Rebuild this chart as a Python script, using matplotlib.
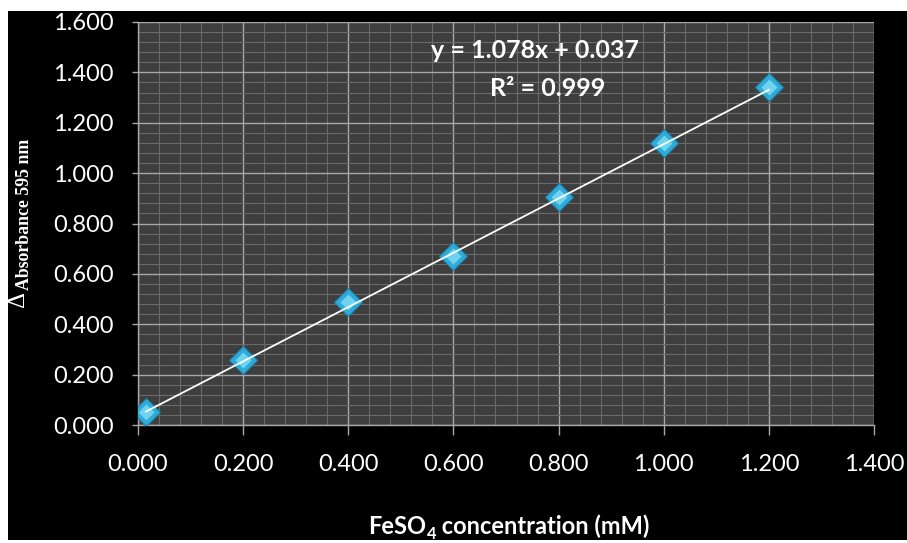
import matplotlib
matplotlib.use("Agg")
import matplotlib.pyplot as plt
import numpy as np
from matplotlib.patches import Rectangle
from matplotlib.ticker import MultipleLocator, FormatStrFormatter

# FeSO4 calibration data
conc_mM = [0.015, 0.200, 0.400, 0.600, 0.800, 1.000, 1.200]
absorbance = [0.052, 0.258, 0.488, 0.671, 0.905, 1.120, 1.342]

# Linear fit reported on the chart
slope = 1.078
intercept = 0.037
r_squared = 0.999

x_ticks = [0.0, 0.2, 0.4, 0.6, 0.8, 1.0, 1.2, 1.4]
y_ticks = [0.0, 0.2, 0.4, 0.6, 0.8, 1.0, 1.2, 1.4, 1.6]

W, H = 907, 543
fig = plt.figure(figsize=(W / 100, H / 100), dpi=100, facecolor="white")


def fx(px):
    return px / W


def fy(py):
    return 1 - py / H


# black chart area behind everything
fig.patches.append(Rectangle((fx(8), fy(540)), fx(899), (540 - 11) / H,
                             transform=fig.transFigure, facecolor="black",
                             edgecolor="none", zorder=-10))

ax = fig.add_axes([fx(138), fy(425), fx(874 - 138), (425 - 22) / H])
ax.set_facecolor("#3e3e3e")
ax.set_xlim(x_ticks[0], x_ticks[-1])
ax.set_ylim(y_ticks[0], y_ticks[-1])
ax.set_xticks(x_ticks)
ax.set_yticks(y_ticks)
ax.xaxis.set_minor_locator(MultipleLocator(0.04))
ax.yaxis.set_minor_locator(MultipleLocator(0.04))
ax.xaxis.set_major_formatter(FormatStrFormatter("%.3f"))
ax.yaxis.set_major_formatter(FormatStrFormatter("%.3f"))

ax.grid(which="minor", color="#6a6a6a", linewidth=0.8)
ax.grid(which="major", color="#a8a8a8", linewidth=1.0)
ax.set_axisbelow(True)

for side in ("top", "right"):
    ax.spines[side].set_visible(False)
for side in ("left", "bottom"):
    ax.spines[side].set_color("#a8a8a8")
    ax.spines[side].set_linewidth(1.0)

ax.tick_params(axis="both", which="minor", length=0)
ax.tick_params(axis="y", which="major", direction="out", length=4.5,
               width=1, color="#a8a8a8", labelcolor="white", pad=13)
ax.tick_params(axis="x", which="major", direction="out", length=7,
               width=1, color="#a8a8a8", labelcolor="white", pad=14)
for lab in ax.get_xticklabels() + ax.get_yticklabels():
    lab.set_fontfamily("Lato")
    lab.set_fontsize(17)

# data markers with a lighter centre
ax.plot(conc_mM, absorbance, linestyle="none", marker="D", markersize=14,
        markerfacecolor="#2fabd6", markeredgecolor="#1d80aa",
        markeredgewidth=0.8, zorder=3)
ax.plot(conc_mM, absorbance, linestyle="none", marker="D", markersize=8,
        markerfacecolor="#6fd3f0", markeredgecolor="none", zorder=3.5)

# trendline
xs = np.array([conc_mM[0], conc_mM[-1]])
ax.plot(xs, slope * xs + intercept, color="white", linewidth=1.3, zorder=4)

# equation
fig.text(fx(535), fy(50), f"y = {slope:.3f}x + {intercept:.3f}",
         family="Lato", weight="bold", size=18, color="white",
         ha="center", va="center")
fig.text(fx(548), fy(88), f"R² = {r_squared:.3f}",
         family="Lato", weight="bold", size=18, color="white",
         ha="center", va="center")

# x axis title, built from pieces so the subscript stays bold
title_style = dict(family="Lato", weight="bold", color="white")
t1 = fig.text(fx(368), fy(538), "FeSO", size=17, ha="left",
              va="bottom", **title_style)
sub = ax.annotate("4", xy=(1.0, 0.0), xycoords=t1, xytext=(0.5, -3),
                  textcoords="offset points", size=12, ha="left",
                  va="bottom", annotation_clip=False, **title_style)
ax.annotate(" concentration (mM)", xy=(1.0, 0.0), xycoords=(sub, t1),
            xytext=(0, 0), textcoords="offset points", size=17,
            ha="left", va="bottom", annotation_clip=False, **title_style)

# y axis title
fig.text(fx(18), fy(299), "Δ", family="Liberation Serif", size=18,
         color="white", rotation=90, ha="center", va="center")
fig.text(fx(25), fy(290), "Absorbance 595 nm", family="Liberation Serif",
         weight="bold", size=12.8, color="white", rotation=90,
         ha="center", va="bottom")

fig.savefig("out.png", dpi=100, facecolor="white")
